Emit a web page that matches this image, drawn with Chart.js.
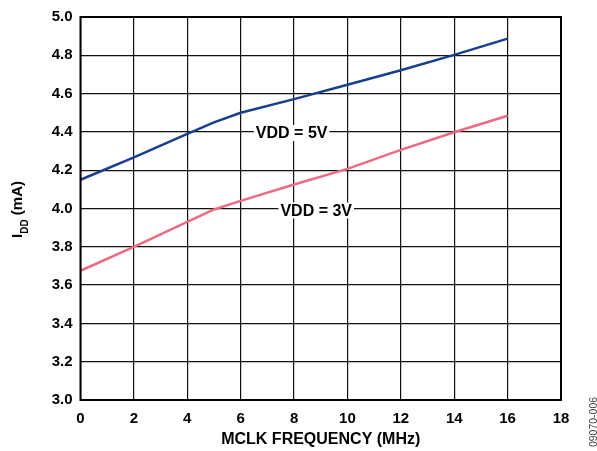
<!DOCTYPE html>
<html><head><meta charset="utf-8">
<script src="https://cdn.jsdelivr.net/npm/chart.js@4"></script>
<style>html,body{margin:0;padding:0;background:#fff}#wrap{width:597px;height:451px}</style>
</head><body><div id="wrap"><canvas id="c" width="597" height="451"></canvas></div>
<script>
const freqMHz = [0, 2, 4, 5, 6, 8, 10, 12, 14, 16];
const idd5V   = [4.15, 4.267, 4.39, 4.45, 4.50, 4.571, 4.646, 4.722, 4.802, 4.887];
const idd3V   = [3.675, 3.80, 3.93, 3.995, 4.04, 4.125, 4.207, 4.306, 4.398, 4.484];
const xTicks = [0, 2, 4, 6, 8, 10, 12, 14, 16, 18];
const yTicks = [3.0, 3.2, 3.4, 3.6, 3.8, 4.0, 4.2, 4.4, 4.6, 4.8, 5.0];
const seriesLabels = ['VDD = 5V', 'VDD = 3V'];
const xTitle = 'MCLK FREQUENCY (MHz)';
const figId = '09070-006';

const toPts = ys => freqMHz.map((x, i) => ({x, y: ys[i]}));
const FONT = 'Liberation Sans, Arial, sans-serif';

const annot = {
  id: 'annot',
  afterDraw(chart) {
    const ctx = chart.ctx, xs = chart.scales.x, ys = chart.scales.y, a = chart.chartArea;
    ctx.save();
    // border
    ctx.strokeStyle = '#000'; ctx.lineWidth = 2;
    ctx.strokeRect(a.left, a.top, a.right - a.left, a.bottom - a.top);
    // series labels with white background
    ctx.font = 'bold 16px ' + FONT;
    ctx.textBaseline = 'middle'; ctx.textAlign = 'center';
    const labs = [[seriesLabels[0], 7.91, 4.394], [seriesLabels[1], 8.83, 3.99]];
    labs.forEach(([t, xv, yv]) => {
      const px = xs.getPixelForValue(xv), py = ys.getPixelForValue(yv);
      const w = ctx.measureText(t).width;
      ctx.fillStyle = '#fff';
      ctx.fillRect(px - w/2 - 2, py - 8, w + 4, 16);
      ctx.fillStyle = '#000';
      ctx.fillText(t, px, py + 1);
    });
    // x title
    ctx.font = 'bold 16px ' + FONT;
    ctx.textAlign = 'center'; ctx.textBaseline = 'alphabetic';
    ctx.fillText(xTitle, (a.left + a.right) / 2, 444);
    // y title with subscript
    ctx.save();
    ctx.translate(22, 209.5);
    ctx.rotate(-Math.PI / 2);
    const f1 = 'bold 15px ' + FONT, f2 = 'bold 10px ' + FONT;
    ctx.font = f1; const wI = ctx.measureText('I').width;
    ctx.font = f2; const wD = ctx.measureText('DD').width;
    ctx.font = f1; const wR = ctx.measureText(' (mA)').width;
    let x0 = -(wI + wD + wR) / 2;
    ctx.textAlign = 'left';
    ctx.font = f1; ctx.fillText('I', x0, 0); x0 += wI;
    ctx.font = f2; ctx.fillText('DD', x0, 6); x0 += wD;
    ctx.font = f1; ctx.fillText(' (mA)', x0, 0);
    ctx.restore();
    // figure id
    ctx.save();
    ctx.translate(596.5, 422);
    ctx.rotate(-Math.PI / 2);
    ctx.font = '10.5px ' + FONT; ctx.fillStyle = '#444';
    ctx.textAlign = 'center'; ctx.textBaseline = 'alphabetic';
    ctx.fillText(figId, 0, 0);
    ctx.restore();
    ctx.restore();
  }
};

new Chart(document.getElementById('c'), {
  type: 'line',
  data: {
    datasets: [
      {label: seriesLabels[0], data: toPts(idd5V), borderColor: '#173f8c', borderWidth: 2.5, pointRadius: 0, tension: 0, fill: false},
      {label: seriesLabels[1], data: toPts(idd3V), borderColor: '#ee6a82', borderWidth: 2.5, pointRadius: 0, tension: 0, fill: false}
    ]
  },
  options: {
    responsive: false, animation: false,
    layout: {padding: {left: 0, right: 36, top: 16, bottom: 0}},
    plugins: {legend: {display: false}, tooltip: {enabled: false}},
    scales: {
      x: {
        type: 'linear', min: 0, max: 18,
        afterBuildTicks: s => { s.ticks = xTicks.map(v => ({value: v})); },
        afterFit: s => { s.height = 51; },
        grid: {color: '#111', lineWidth: 1.2, drawTicks: false},
        border: {display: false},
        ticks: {padding: 10, color: '#000', font: {family: FONT, size: 15, weight: 'bold'}, maxRotation: 0,
          callback: v => String(v)}
      },
      y: {
        type: 'linear', min: 3.0, max: 5.0,
        afterBuildTicks: s => { s.ticks = yTicks.map(v => ({value: v})); },
        afterFit: s => { s.width = 80.5; },
        grid: {color: '#111', lineWidth: 1.2, drawTicks: false},
        border: {display: false},
        ticks: {padding: 8, color: '#000', font: {family: FONT, size: 15, weight: 'bold'},
          callback: v => Number(v).toFixed(1)}
      }
    }
  },
  plugins: [annot]
});
</script>
</body></html>
